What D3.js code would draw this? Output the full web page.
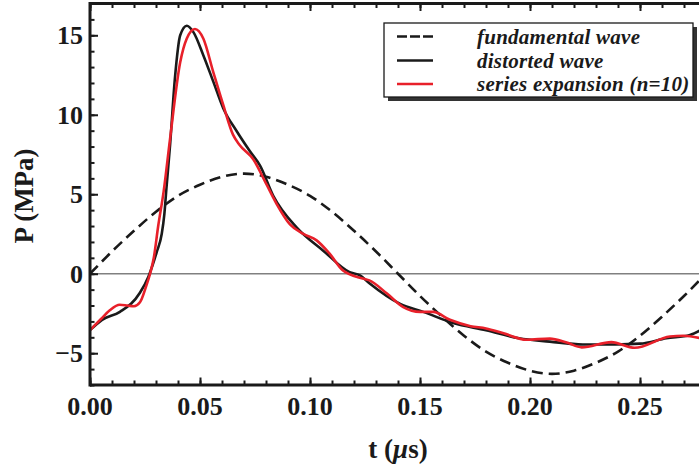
<!DOCTYPE html>
<html>
<head>
<meta charset="utf-8">
<script src="https://cdn.jsdelivr.net/npm/d3@7"></script>
<style>
  html, body { margin: 0; padding: 0; background: #fff; }
  svg { display: block; }
</style>
</head>
<body>
<svg id="chart" width="699" height="471"></svg>
<script>
// ---- data ----
const tTicks = [0.00, 0.05, 0.10, 0.15, 0.20, 0.25];
const tTickLabels = ["0.00", "0.05", "0.10", "0.15", "0.20", "0.25"];
const pTicks = [-5, 0, 5, 10, 15];
const pTickLabels = ["\u22125", "0", "5", "10", "15"];

const fundamentalT = [0.00, 0.01, 0.02, 0.03, 0.04, 0.05, 0.06, 0.07, 0.08, 0.09, 0.10, 0.11, 0.12, 0.13, 0.14,
                      0.15, 0.16, 0.17, 0.18, 0.19, 0.20, 0.21, 0.22, 0.23, 0.24, 0.25, 0.26, 0.27, 0.28];
const fundamentalP = [0.0, 1.4, 2.7, 3.9, 4.9, 5.6, 6.1, 6.3, 6.1, 5.6, 4.9, 3.9, 2.7, 1.4, 0.0,
                      -1.4, -2.7, -3.9, -4.9, -5.6, -6.1, -6.3, -6.1, -5.6, -4.9, -3.9, -2.7, -1.4, 0.0];

const distortedT = [0.000, 0.0055, 0.0136, 0.0227, 0.0265, 0.0303, 0.0326, 0.0338, 0.0347, 0.0364, 0.0386, 0.041,
                    0.044, 0.047, 0.0515, 0.056, 0.0606, 0.0667, 0.0727, 0.0773, 0.0833, 0.094, 0.106, 0.118,
                    0.1227, 0.127, 0.141, 0.1515, 0.165, 0.180, 0.195, 0.209, 0.224, 0.239, 0.250, 0.262, 0.2727, 0.2775];
const distortedP = [-3.55, -2.9, -2.4, -1.2, -0.2, 1.35, 2.5, 3.75, 5.3, 8.1, 12.3, 15.0,
                    15.6, 15.2, 13.75, 12.1, 10.4, 8.96, 7.7, 6.8, 4.9, 2.9, 1.45, 0.1,
                    -0.1, -0.6, -1.9, -2.4, -3.1, -3.55, -4.06, -4.27, -4.45, -4.45, -4.4, -4.06, -3.85, -3.55];

const seriesT = [0.000, 0.005, 0.009, 0.0135, 0.017, 0.020, 0.0227, 0.0255, 0.0273, 0.029, 0.031, 0.0335, 0.0364,
                 0.041, 0.044, 0.0477, 0.0515, 0.056, 0.0606, 0.065, 0.068, 0.0742, 0.0803, 0.0848, 0.0909,
                 0.097, 0.103, 0.109, 0.115, 0.124, 0.127, 0.135, 0.1424, 0.150, 0.156, 0.1636, 0.173, 0.180,
                 0.188, 0.1985, 0.209, 0.2167, 0.2235, 0.237, 0.2475, 0.2636, 0.2697, 0.2775];
const seriesP = [-3.55, -2.85, -2.3, -1.95, -2.0, -2.05, -1.8, -0.8, 0.0, 1.0, 3.0, 5.2, 8.5,
                 13.3, 14.8, 15.4, 14.8, 12.7, 10.6, 8.75, 8.1, 7.2, 5.6, 4.4, 3.1,
                 2.5, 2.1, 1.25, 0.2, -0.3, -0.42, -1.25, -2.1, -2.4, -2.4, -2.9, -3.3, -3.44,
                 -3.75, -4.15, -4.08, -4.33, -4.63, -4.3, -4.66, -3.95, -3.9, -4.05];

const legendLabels = ["fundamental wave", "distorted wave", "series expansion (n=10)"];

// ---- layout ----
const svg = d3.select("#chart");
const plotLeft = 90, plotBottom = 385, plotTop = 3.5;
const x = d3.scaleLinear().domain([0, 0.28]).range([plotLeft, plotLeft + 0.28 * 2200]);
const y = d3.scaleLinear().domain([-7, 17]).range([plotBottom, plotTop]);
const serif = "'Liberation Serif', 'Times New Roman', serif";

svg.append("defs").append("clipPath").attr("id", "plotclip")
  .append("rect").attr("x", plotLeft).attr("y", plotTop).attr("width", 699 - plotLeft).attr("height", plotBottom - plotTop);

// zero line
svg.append("line")
  .attr("x1", plotLeft).attr("x2", 699).attr("y1", y(0)).attr("y2", y(0))
  .attr("stroke", "#808080").attr("stroke-width", 1.3);

// curves
const plot = svg.append("g").attr("clip-path", "url(#plotclip)");
const mk = (ts, ps) => ts.map((t, i) => [t, ps[i]]);
const line = d3.line().x(d => x(d[0])).y(d => y(d[1])).curve(d3.curveMonotoneX);

plot.append("path").datum(mk(fundamentalT, fundamentalP))
  .attr("d", line).attr("fill", "none").attr("stroke", "#1a1a1a")
  .attr("stroke-width", 2.6).attr("stroke-dasharray", "11,6");
plot.append("path").datum(mk(distortedT, distortedP))
  .attr("d", line).attr("fill", "none").attr("stroke", "#1a1a1a").attr("stroke-width", 2.6);
plot.append("path").datum(mk(seriesT, seriesP))
  .attr("d", line).attr("fill", "none").attr("stroke", "#e8202a").attr("stroke-width", 2.6);

// minor + major ticks (inward) via d3 axes
const minorT = d3.range(0, 28).map(i => i / 100);
const minorP = d3.range(-7, 18);
function styleTicks(g) {
  g.select(".domain").remove();
  g.selectAll(".tick line").attr("stroke", "#1a1a1a").attr("stroke-width", 2);
  g.selectAll(".tick text").remove();
}
svg.append("g").attr("transform", `translate(0,${plotBottom})`)
  .call(d3.axisBottom(x).tickValues(minorT).tickSize(-4.5)).call(styleTicks);
svg.append("g").attr("transform", `translate(0,${plotBottom})`)
  .call(d3.axisBottom(x).tickValues(tTicks).tickSize(-7.5)).call(styleTicks);
svg.append("g").attr("transform", `translate(0,${plotTop})`)
  .call(d3.axisTop(x).tickValues(minorT).tickSize(-4.5)).call(styleTicks);
svg.append("g").attr("transform", `translate(0,${plotTop})`)
  .call(d3.axisTop(x).tickValues(tTicks).tickSize(-7.5)).call(styleTicks);
svg.append("g").attr("transform", `translate(${plotLeft},0)`)
  .call(d3.axisLeft(y).tickValues(minorP).tickSize(-4.5)).call(styleTicks);
svg.append("g").attr("transform", `translate(${plotLeft},0)`)
  .call(d3.axisLeft(y).tickValues(pTicks).tickSize(-8)).call(styleTicks);

// frame
svg.append("line").attr("x1", plotLeft).attr("x2", plotLeft).attr("y1", plotTop - 1.5).attr("y2", plotBottom + 1.5)
  .attr("stroke", "#1a1a1a").attr("stroke-width", 3);
svg.append("line").attr("x1", plotLeft).attr("x2", 699).attr("y1", plotBottom).attr("y2", plotBottom)
  .attr("stroke", "#1a1a1a").attr("stroke-width", 3);
svg.append("line").attr("x1", plotLeft).attr("x2", 699).attr("y1", plotTop).attr("y2", plotTop)
  .attr("stroke", "#1a1a1a").attr("stroke-width", 3);

// tick labels
svg.append("g").selectAll("text").data(tTicks).join("text")
  .attr("x", d => x(d)).attr("y", 415)
  .attr("text-anchor", "middle")
  .attr("font-family", serif).attr("font-weight", "bold").attr("font-size", 26)
  .attr("fill", "#1a1a1a")
  .text((d, i) => tTickLabels[i]);
svg.append("g").selectAll("text").data(pTicks).join("text")
  .attr("x", 83).attr("y", d => y(d) + 9)
  .attr("text-anchor", "end")
  .attr("font-family", serif).attr("font-weight", "bold").attr("font-size", 26)
  .attr("fill", "#1a1a1a")
  .text((d, i) => pTickLabels[i]);

// axis titles
const xt = svg.append("text").attr("x", 398).attr("y", 458).attr("text-anchor", "middle")
  .attr("font-family", serif).attr("font-weight", "bold").attr("font-size", 27).attr("fill", "#1a1a1a");
xt.append("tspan").text("t (");
xt.append("tspan").attr("font-style", "italic").text("\u03bc");
xt.append("tspan").text("s)");

svg.append("text").attr("transform", "translate(33,196) rotate(-90)")
  .attr("text-anchor", "middle")
  .attr("font-family", serif).attr("font-weight", "bold").attr("font-size", 27).attr("fill", "#1a1a1a")
  .text("P (MPa)");

// legend
const lg = svg.append("g");
lg.append("rect").attr("x", 388).attr("y", 27).attr("width", 309).attr("height", 74).attr("fill", "#333");
lg.append("rect").attr("x", 384).attr("y", 23).attr("width", 309).attr("height", 74)
  .attr("fill", "#fff").attr("stroke", "#1a1a1a").attr("stroke-width", 1.3);
const legStyles = [
  { color: "#1a1a1a", dash: "10,3" },
  { color: "#1a1a1a", dash: null },
  { color: "#e8202a", dash: null }
];
const rowY = [36.5, 60.5, 84];
legendLabels.forEach((lab, i) => {
  lg.append("line").attr("x1", 397).attr("x2", 433).attr("y1", rowY[i]).attr("y2", rowY[i])
    .attr("stroke", legStyles[i].color).attr("stroke-width", 2.6)
    .attr("stroke-dasharray", legStyles[i].dash);
  lg.append("text").attr("x", 477).attr("y", rowY[i] + 7)
    .attr("font-family", serif).attr("font-weight", "bold").attr("font-style", "italic")
    .attr("font-size", 21).attr("letter-spacing", 0.25).attr("fill", "#1a1a1a")
    .text(lab);
});
</script>
</body>
</html>
